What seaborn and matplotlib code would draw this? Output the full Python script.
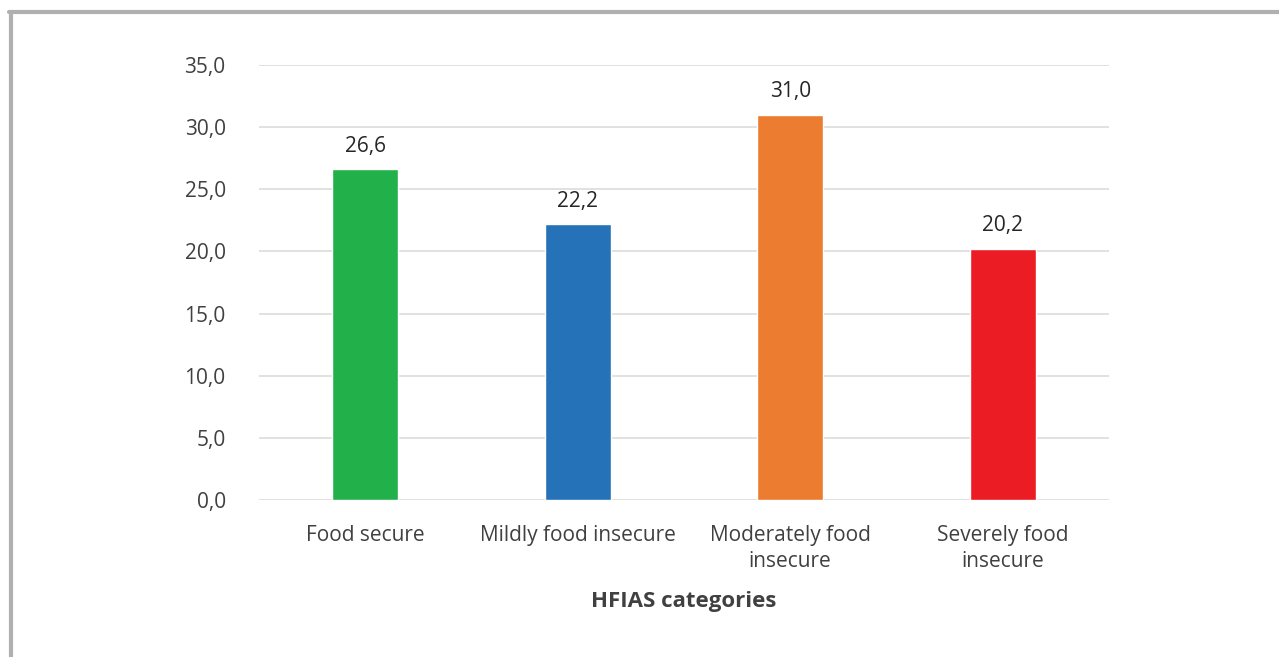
import matplotlib
matplotlib.use("Agg")
import matplotlib.pyplot as plt
import numpy as np
import pandas as pd
import seaborn as sns
from matplotlib.lines import Line2D

categories = ["Food secure", "Mildly food insecure", "Moderately food\ninsecure", "Severely food\ninsecure"]
values = [26.6, 22.2, 31.0, 20.2]
colors = ["#22b04b", "#2672b8", "#ec7c30", "#ec1c24"]
yticks = [0, 5, 10, 15, 20, 25, 30, 35]

df = pd.DataFrame({"category": categories, "value": values})

sns.set_style("white")
plt.rcParams["font.family"] = ["Open Sans", "DejaVu Sans"]

fig = plt.figure(figsize=(12.79, 6.57), dpi=100)
ax = fig.add_axes([259 / 1279, 1 - 500 / 657, 850 / 1279, 435 / 657])

sns.barplot(data=df, x="category", y="value", hue="category", palette=colors,
            width=0.31, legend=False, ax=ax, saturation=1)

ax.set_ylim(0, 35)
ax.set_xlim(-0.5, 3.5)
ax.set_yticks(yticks)
ax.set_yticklabels([f"{v:.1f}".replace(".", ",") for v in yticks])
ax.yaxis.grid(True, color="#d9d9d9", linewidth=1.1)
ax.set_axisbelow(True)
for s in ax.spines.values():
    s.set_visible(False)
ax.tick_params(axis="both", length=0, labelsize=15, colors="#404040")
ax.tick_params(axis="y", pad=24)
ax.tick_params(axis="x", pad=18)
for lbl in ax.get_xticklabels():
    lbl.set_linespacing(1.3)
ax.set_ylabel("")
ax.set_xlabel("HFIAS categories", fontsize=16, fontweight="bold", color="#404040", labelpad=14)

for i, v in enumerate(values):
    ax.annotate(f"{v:.1f}".replace(".", ","), (i, v), xytext=(0, 9), textcoords="offset points",
                ha="center", va="bottom", fontsize=15, color="#262626")

# outer frame (top and left edges)
fig.add_artist(Line2D([10.5 / 1279, 10.5 / 1279], [0, 1 - 12 / 657], transform=fig.transFigure,
                      color="#b0b0b0", linewidth=3))
fig.add_artist(Line2D([9 / 1279, 1], [1 - 12 / 657, 1 - 12 / 657], transform=fig.transFigure,
                      color="#b0b0b0", linewidth=3))

fig.savefig("out.png", dpi=100)
